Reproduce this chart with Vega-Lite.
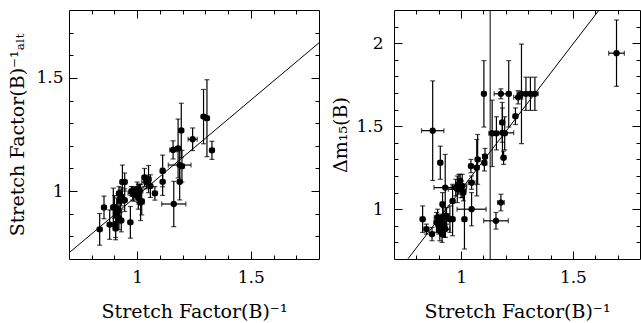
{
  "$schema": "https://vega.github.io/schema/vega-lite/v6.json",
  "padding": {"left": 8, "top": 9, "right": 0, "bottom": 0},
  "bounds": "flush",
  "spacing": 75,
  "config": {
    "view": {"stroke": "black", "strokeWidth": 1},
    "font": "DejaVu Serif",
    "axis": {"labelFont": "DejaVu Serif", "titleFont": "DejaVu Serif", "labelFontSize": 17, "titleFontSize": 19, "titleFontWeight": "normal", "labelColor": "black", "titleColor": "black", "tickColor": "black", "grid": false, "domain": false}
  },
  "datasets": {
    "left": [
      {"x":0.835,"y":0.831,"ex":0.01,"ey":0.07},
      {"x":0.854,"y":0.928,"ex":0.01,"ey":0.05},
      {"x":0.879,"y":0.852,"ex":0.01,"ey":0.065},
      {"x":0.895,"y":0.928,"ex":0.01,"ey":0.085},
      {"x":0.905,"y":0.835,"ex":0.01,"ey":0.05},
      {"x":0.905,"y":0.855,"ex":0.01,"ey":0.06},
      {"x":0.91,"y":0.90,"ex":0.015,"ey":0.07},
      {"x":0.915,"y":0.92,"ex":0.01,"ey":0.06},
      {"x":0.92,"y":0.88,"ex":0.01,"ey":0.05},
      {"x":0.925,"y":0.955,"ex":0.015,"ey":0.05},
      {"x":0.93,"y":0.975,"ex":0.01,"ey":0.04},
      {"x":0.935,"y":1.04,"ex":0.01,"ey":0.075},
      {"x":0.945,"y":1.04,"ex":0.01,"ey":0.04},
      {"x":0.945,"y":0.96,"ex":0.01,"ey":0.05},
      {"x":0.93,"y":0.87,"ex":0.01,"ey":0.05},
      {"x":0.90,"y":0.93,"ex":0.015,"ey":0.05},
      {"x":0.92,"y":0.99,"ex":0.01,"ey":0.03},
      {"x":0.97,"y":0.862,"ex":0.01,"ey":0.07},
      {"x":0.975,"y":1.0,"ex":0.01,"ey":0.02},
      {"x":0.985,"y":0.985,"ex":0.015,"ey":0.03},
      {"x":0.98,"y":0.99,"ex":0.02,"ey":0.03},
      {"x":1.0,"y":1.01,"ex":0.01,"ey":0.03},
      {"x":1.005,"y":0.99,"ex":0.01,"ey":0.04},
      {"x":1.01,"y":1.0,"ex":0.015,"ey":0.03},
      {"x":1.005,"y":0.97,"ex":0.01,"ey":0.05},
      {"x":1.015,"y":0.95,"ex":0.015,"ey":0.08},
      {"x":1.02,"y":0.955,"ex":0.01,"ey":0.06},
      {"x":1.032,"y":1.06,"ex":0.01,"ey":0.04},
      {"x":1.04,"y":1.04,"ex":0.02,"ey":0.03},
      {"x":1.05,"y":1.053,"ex":0.01,"ey":0.06},
      {"x":1.058,"y":1.022,"ex":0.01,"ey":0.05},
      {"x":1.078,"y":0.99,"ex":0.01,"ey":0.03},
      {"x":1.112,"y":1.041,"ex":0.01,"ey":0.06},
      {"x":1.112,"y":1.089,"ex":0.01,"ey":0.07},
      {"x":1.161,"y":0.943,"ex":0.053,"ey":0.1},
      {"x":1.158,"y":1.182,"ex":0.015,"ey":0.04},
      {"x":1.18,"y":1.188,"ex":0.01,"ey":0.13},
      {"x":1.187,"y":1.115,"ex":0.05,"ey":0.07},
      {"x":1.187,"y":1.041,"ex":0.01,"ey":0.08},
      {"x":1.197,"y":1.11,"ex":0.01,"ey":0.07},
      {"x":1.194,"y":1.268,"ex":0.01,"ey":0.12},
      {"x":1.244,"y":1.229,"ex":0.02,"ey":0.05},
      {"x":1.292,"y":1.329,"ex":0.01,"ey":0.12},
      {"x":1.307,"y":1.322,"ex":0.01,"ey":0.17},
      {"x":1.329,"y":1.18,"ex":0.01,"ey":0.04}
    ],
    "right": [
      {"x":0.828,"y":0.94,"ex":0.01,"ey":0.08},
      {"x":0.845,"y":0.88,"ex":0.01,"ey":0.03},
      {"x":0.87,"y":0.85,"ex":0.01,"ey":0.04},
      {"x":0.873,"y":1.473,"ex":0.05,"ey":0.3},
      {"x":0.907,"y":1.28,"ex":0.01,"ey":0.1},
      {"x":0.929,"y":1.13,"ex":0.05,"ey":0.2},
      {"x":0.89,"y":0.92,"ex":0.01,"ey":0.06},
      {"x":0.895,"y":0.95,"ex":0.015,"ey":0.05},
      {"x":0.90,"y":0.90,"ex":0.01,"ey":0.05},
      {"x":0.905,"y":0.87,"ex":0.01,"ey":0.06},
      {"x":0.91,"y":0.93,"ex":0.01,"ey":0.04},
      {"x":0.915,"y":0.85,"ex":0.01,"ey":0.05},
      {"x":0.917,"y":1.03,"ex":0.01,"ey":0.07},
      {"x":0.92,"y":0.95,"ex":0.015,"ey":0.06},
      {"x":0.925,"y":0.90,"ex":0.01,"ey":0.07},
      {"x":0.93,"y":0.88,"ex":0.02,"ey":0.05},
      {"x":0.935,"y":0.96,"ex":0.01,"ey":0.05},
      {"x":0.95,"y":0.94,"ex":0.01,"ey":0.08},
      {"x":0.962,"y":0.94,"ex":0.01,"ey":0.1},
      {"x":0.962,"y":1.05,"ex":0.01,"ey":0.1},
      {"x":0.976,"y":1.13,"ex":0.02,"ey":0.05},
      {"x":0.983,"y":1.12,"ex":0.04,"ey":0.08},
      {"x":0.99,"y":1.15,"ex":0.015,"ey":0.06},
      {"x":0.996,"y":1.17,"ex":0.01,"ey":0.04},
      {"x":1.0,"y":1.12,"ex":0.01,"ey":0.05},
      {"x":1.005,"y":1.14,"ex":0.02,"ey":0.07},
      {"x":1.01,"y":1.10,"ex":0.01,"ey":0.05},
      {"x":1.015,"y":0.94,"ex":0.01,"ey":0.18},
      {"x":1.047,"y":1.0,"ex":0.065,"ey":0.1},
      {"x":1.047,"y":1.16,"ex":0.015,"ey":0.04},
      {"x":1.044,"y":1.26,"ex":0.01,"ey":0.04},
      {"x":1.07,"y":1.25,"ex":0.01,"ey":0.17},
      {"x":1.074,"y":1.30,"ex":0.01,"ey":0.15},
      {"x":1.104,"y":1.28,"ex":0.01,"ey":0.05},
      {"x":1.107,"y":1.316,"ex":0.01,"ey":0.05},
      {"x":1.102,"y":1.695,"ex":0.01,"ey":0.2},
      {"x":1.139,"y":1.457,"ex":0.015,"ey":0.2},
      {"x":1.158,"y":1.457,"ex":0.01,"ey":0.1},
      {"x":1.156,"y":0.93,"ex":0.055,"ey":0.05},
      {"x":1.178,"y":1.04,"ex":0.015,"ey":0.05},
      {"x":1.184,"y":1.523,"ex":0.01,"ey":0.12},
      {"x":1.178,"y":1.695,"ex":0.03,"ey":0.03},
      {"x":1.185,"y":1.46,"ex":0.05,"ey":0.15},
      {"x":1.195,"y":1.457,"ex":0.01,"ey":0.1},
      {"x":1.19,"y":1.31,"ex":0.01,"ey":0.04},
      {"x":1.213,"y":1.695,"ex":0.01,"ey":0.2},
      {"x":1.243,"y":1.56,"ex":0.01,"ey":0.05},
      {"x":1.255,"y":1.674,"ex":0.02,"ey":0.04},
      {"x":1.27,"y":1.695,"ex":0.02,"ey":0.3},
      {"x":1.29,"y":1.695,"ex":0.02,"ey":0.1},
      {"x":1.31,"y":1.695,"ex":0.01,"ey":0.1},
      {"x":1.33,"y":1.695,"ex":0.015,"ey":0.1},
      {"x":1.695,"y":1.94,"ex":0.035,"ey":0.2}
    ]
  },
  "hconcat": [
    {
      "width": 250,
      "height": 249,
      "data": {"name": "left"},
      "resolve": {"axis": {"x": "independent", "y": "independent"}},
      "layer": [
        {
          "mark": {"type": "errorbar", "ticks": {"size": 5, "strokeWidth": 1.2}, "color": "black", "thickness": 1.2, "clip": true},
          "encoding": {
            "x": {"field": "x", "type": "quantitative", "scale": {"domain": [0.7, 1.8], "nice": false, "zero": false},
              "axis": {"orient": "bottom", "title": "Stretch Factor(B)⁻¹", "values": [0.8,0.9,1,1.1,1.2,1.3,1.4,1.5,1.6,1.7],
                "tickSize": {"condition": {"test": "datum.value == 1 || datum.value == 1.5", "value": -8}, "value": -4},
                "labelExpr": "datum.value == 1 ? '1' : datum.value == 1.5 ? '1.5' : ''", "labelPadding": 18, "titlePadding": 17}},
            "y": {"field": "y", "type": "quantitative", "scale": {"domain": [0.7, 1.8], "nice": false, "zero": false},
              "axis": {"orient": "left", "title": "Stretch Factor(B)⁻¹ₐₗₜ", "values": [0.8,0.9,1,1.1,1.2,1.3,1.4,1.5,1.6,1.7],
                "tickSize": {"condition": {"test": "datum.value == 1 || datum.value == 1.5", "value": -8}, "value": -4},
                "labelExpr": "datum.value == 1 ? '1' : datum.value == 1.5 ? '1.5' : ''", "labelPadding": 14, "titlePadding": 8}},
            "yError": {"field": "ey"}
          }
        },
        {
          "mark": {"type": "errorbar", "ticks": {"size": 5, "strokeWidth": 1.2}, "color": "black", "thickness": 1.2, "clip": true},
          "encoding": {
            "x": {"field": "x", "type": "quantitative", "axis": null},
            "y": {"field": "y", "type": "quantitative", "axis": null},
            "xError": {"field": "ex"}
          }
        },
        {
          "mark": {"type": "circle", "size": 40, "color": "black", "opacity": 1, "clip": true},
          "encoding": {
            "x": {"field": "x", "type": "quantitative", "axis": null},
            "y": {"field": "y", "type": "quantitative", "axis": null}
          }
        },
        {
          "data": {"values": [{"x": 0.7, "y": 0.727, "x2": 1.8, "y2": 1.655}]},
          "mark": {"type": "rule", "color": "black", "strokeWidth": 1},
          "encoding": {
            "x": {"field": "x", "type": "quantitative",
              "axis": {"orient": "top", "title": null, "labels": false, "values": [0.8,0.9,1,1.1,1.2,1.3,1.4,1.5,1.6,1.7],
                "tickSize": {"condition": {"test": "datum.value == 1 || datum.value == 1.5", "value": -8}, "value": -4}}},
            "y": {"field": "y", "type": "quantitative",
              "axis": {"orient": "right", "title": null, "labels": false, "values": [0.8,0.9,1,1.1,1.2,1.3,1.4,1.5,1.6,1.7],
                "tickSize": {"condition": {"test": "datum.value == 1 || datum.value == 1.5", "value": -8}, "value": -4}}},
            "x2": {"field": "x2"},
            "y2": {"field": "y2"}
          }
        }
      ]
    },
    {
      "width": 246,
      "height": 249,
      "data": {"name": "right"},
      "resolve": {"axis": {"x": "independent", "y": "independent"}},
      "layer": [
        {
          "mark": {"type": "errorbar", "ticks": {"size": 5, "strokeWidth": 1.2}, "color": "black", "thickness": 1.2, "clip": true},
          "encoding": {
            "x": {"field": "x", "type": "quantitative", "scale": {"domain": [0.7, 1.8], "nice": false, "zero": false},
              "axis": {"orient": "bottom", "title": "Stretch Factor(B)⁻¹", "values": [0.8,0.9,1,1.1,1.2,1.3,1.4,1.5,1.6,1.7],
                "tickSize": {"condition": {"test": "datum.value == 1 || datum.value == 1.5", "value": -8}, "value": -4},
                "labelExpr": "datum.value == 1 ? '1' : datum.value == 1.5 ? '1.5' : ''", "labelPadding": 18, "titlePadding": 17}},
            "y": {"field": "y", "type": "quantitative", "scale": {"domain": [0.7, 2.2], "nice": false, "zero": false},
              "axis": {"orient": "left", "title": "Δm₁₅(B)", "values": [0.8,0.9,1,1.1,1.2,1.3,1.4,1.5,1.6,1.7,1.8,1.9,2,2.1],
                "tickSize": {"condition": {"test": "datum.value == 1 || datum.value == 1.5 || datum.value == 2", "value": -8}, "value": -4},
                "labelExpr": "datum.value == 1 ? '1' : datum.value == 1.5 ? '1.5' : datum.value == 2 ? '2' : ''", "labelPadding": 19, "titlePadding": 5}},
            "yError": {"field": "ey"}
          }
        },
        {
          "mark": {"type": "errorbar", "ticks": {"size": 5, "strokeWidth": 1.2}, "color": "black", "thickness": 1.2, "clip": true},
          "encoding": {
            "x": {"field": "x", "type": "quantitative", "axis": null},
            "y": {"field": "y", "type": "quantitative", "axis": null},
            "xError": {"field": "ex"}
          }
        },
        {
          "mark": {"type": "circle", "size": 40, "color": "black", "opacity": 1, "clip": true},
          "encoding": {
            "x": {"field": "x", "type": "quantitative", "axis": null},
            "y": {"field": "y", "type": "quantitative", "axis": null}
          }
        },
        {
          "data": {"values": [{"x": 1.13}]},
          "mark": {"type": "rule", "color": "black", "strokeWidth": 1},
          "encoding": {
            "x": {"field": "x", "type": "quantitative", "axis": null}
          }
        },
        {
          "data": {"values": [{"x": 0.763, "y": 0.702, "x2": 1.617, "y2": 2.2}]},
          "mark": {"type": "rule", "color": "black", "strokeWidth": 1},
          "encoding": {
            "x": {"field": "x", "type": "quantitative",
              "axis": {"orient": "top", "title": null, "labels": false, "values": [0.8,0.9,1,1.1,1.2,1.3,1.4,1.5,1.6,1.7],
                "tickSize": {"condition": {"test": "datum.value == 1 || datum.value == 1.5", "value": -8}, "value": -4}}},
            "y": {"field": "y", "type": "quantitative",
              "axis": {"orient": "right", "title": null, "labels": false, "values": [0.8,0.9,1,1.1,1.2,1.3,1.4,1.5,1.6,1.7,1.8,1.9,2,2.1],
                "tickSize": {"condition": {"test": "datum.value == 1 || datum.value == 1.5 || datum.value == 2", "value": -8}, "value": -4}}},
            "x2": {"field": "x2"},
            "y2": {"field": "y2"}
          }
        }
      ]
    }
  ]
}
